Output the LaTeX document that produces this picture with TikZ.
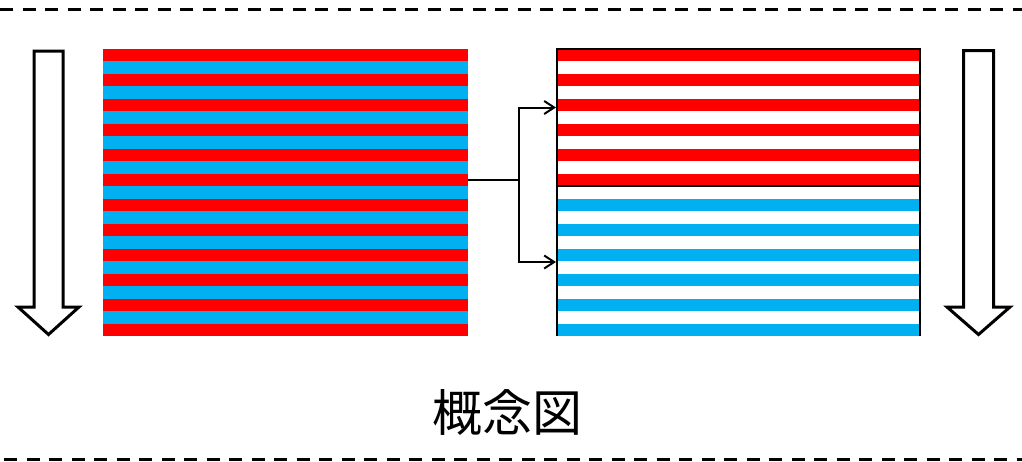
\documentclass[tikz,border=0pt]{standalone}
\usepackage{fontspec}
\newfontfamily\cjk{Noto Sans CJK JP}
\usetikzlibrary{arrows.meta}
\definecolor{sred}{RGB}{255,0,0}
\definecolor{sblue}{RGB}{0,176,240}
\tikzset{
  dashline/.style={line width=3pt, dash pattern=on 13pt off 9.5pt},
  bigarrow/.style={draw=black, line width=3pt, fill=white, line join=miter},
  conn/.style={line width=2pt, -{Straight Barb[length=10pt,width=13pt,line width=2pt]}},
  plain/.style={line width=2pt},
  frame/.style={draw=black, line width=1.6pt}
}
\begin{document}
\begin{tikzpicture}[x=1pt,y=-1pt]
\useasboundingbox (0,0) rectangle (1022,461);
\fill[white] (0,0) rectangle (1022,461);
% dashed borders
\draw[dashline] (0,9.5) -- (1022,9.5);
\draw[dashline] (4,459.5) -- (1022,459.5);
% left striped block
\pgfmathsetmacro{\h}{(336-49)/23}
\foreach \i in {0,...,22}{
  \pgfmathsetmacro{\ya}{49+\i*\h}
  \pgfmathsetmacro{\yb}{49+(\i+1)*\h}
  \ifodd\i
    \fill[sblue] (103,\ya) rectangle (468,\yb);
  \else
    \fill[sred] (103,\ya) rectangle (468,\yb);
  \fi
}
\coordinate (L) at (468,179.5);
% right block top half (red / white)
\foreach \i in {0,...,10}{
  \pgfmathsetmacro{\ya}{49+\i*\h}
  \pgfmathsetmacro{\yb}{49+(\i+1)*\h}
  \ifodd\i\else
    \fill[sred] (557,\ya) rectangle (920,\yb);
  \fi
}
% right block bottom half (white / blue)
\foreach \i in {11,...,22}{
  \pgfmathsetmacro{\ya}{49+\i*\h}
  \pgfmathsetmacro{\yb}{49+(\i+1)*\h}
  \ifodd\i\else
    \fill[sblue] (557,\ya) rectangle (920,\yb);
  \fi
}
\pgfmathsetmacro{\ymid}{49+11*\h}
\draw[frame] (557,49) rectangle (920,\ymid);
\draw[frame] (557,\ymid) -- (557,336);
\draw[frame] (920,\ymid) -- (920,336);
\coordinate (RT) at (556,107.5);
\coordinate (RB) at (556,262);
\coordinate (J) at (519,179.5);
\coordinate (JT) at (519,107.5);
\coordinate (JB) at (519,262);
% connector
\draw[plain] (L) -- (J);
\draw[conn] (J) -- (JT) -- (RT);
\draw[conn] (J) -- (JB) -- (RB);
% big hollow arrows
\draw[bigarrow] (34,51) -- (63,51) -- (63,307) -- (79,307) -- (48.5,334.5) -- (18,307) -- (34,307) -- cycle;
\draw[bigarrow] (963.5,50.5) -- (993.5,50.5) -- (993.5,307) -- (1010,307) -- (978.5,334.5) -- (947,307) -- (963.5,307) -- cycle;
% caption
\node[font=\cjk\fontsize{50}{56}\selectfont, inner sep=0pt] (cap) at (507,412) {概念図};
\end{tikzpicture}
\end{document}
